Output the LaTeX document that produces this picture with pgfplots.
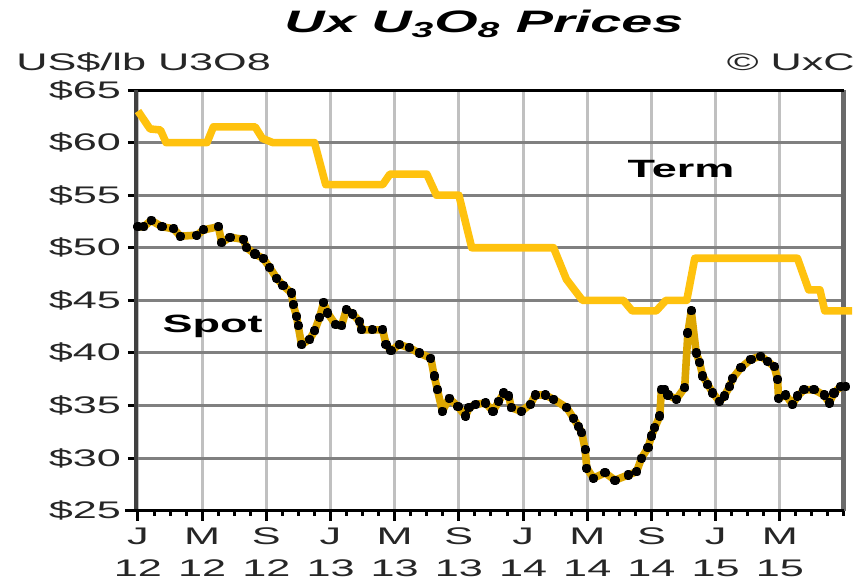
\documentclass[border=0pt]{standalone}
\usepackage{fontspec}
\setmainfont{Liberation Sans}[FakeStretch=1.8]
\usepackage{pgfplots}
\pgfplotsset{compat=1.18}
\definecolor{termc}{HTML}{FFC20E}
\definecolor{spotc}{HTML}{DDA600}
\definecolor{hgrid}{HTML}{808080}
\definecolor{vgrid}{HTML}{C0C0C0}
\definecolor{axdark}{HTML}{404040}
\definecolor{axright}{HTML}{6A6A6A}
\begin{document}
\begin{tikzpicture}
\useasboundingbox (-69pt,-37.65pt) rectangle (359.5pt,255.35pt);
\begin{axis}[
  at={(0pt,0pt)}, anchor=south west,
  scale only axis, width=353pt, height=210.35pt,
  xmin=0, xmax=44, ymin=25, ymax=65,
  clip=false,
  axis line style={draw=none},
  xtick={0,4,...,40},
  xticklabels={{J\\12},{M\\12},{S\\12},{J\\13},{M\\13},{S\\13},{J\\14},{M\\14},{S\\14},{J\\15},{M\\15}},
  minor xtick={0,1,...,44},
  ytick={25,30,...,65},
  yticklabel={\$\pgfmathprintnumber{\tick}},
  /pgf/number format/assume math mode=true,
  tick align=outside,
  xtick pos=bottom, ytick pos=left,
  major tick length=5pt, minor tick length=2.5pt,
  every tick/.style={black, line width=1.5pt},
  grid=major,
  major x grid style={vgrid, line width=1.5pt},
  major y grid style={hgrid, line width=1.5pt},
  xticklabel style={align=center, font=\fontsize{12}{16}\selectfont, text=black!85},
  yticklabel style={font=\fontsize{12}{14}\selectfont, text=black!85},
]
% borders
\draw[axdark, line width=2pt] ([xshift=-1pt]rel axis cs:0,0) -- ([xshift=-1pt]rel axis cs:0,1);
\draw[axright, line width=2.5pt] (rel axis cs:1,0) -- (rel axis cs:1,1);
\draw[black, line width=1.5pt] (rel axis cs:0,1) -- (rel axis cs:1,1);
\draw[black, line width=1.5pt] ([xshift=-6.5pt]rel axis cs:0,0) -- (rel axis cs:1,0);

\addplot[termc, line width=3.8pt, line join=round] coordinates {
(0,63) (0.75,61.3) (1.4,61.2) (1.75,60) (4.3,60) (4.7,61.5) (7.3,61.5) (7.75,60.4)
(8.4,60) (11,60) (11.7,56) (15.25,56) (15.7,57) (18,57) (18.6,55) (20,55)
(20.8,50) (25.9,50) (26.7,47) (27.7,45) (30.25,45) (30.8,44) (32.3,44) (32.9,45)
(34.2,45) (34.7,49) (41.1,49) (41.8,46) (42.5,46) (42.8,44) (44.5,44)
};

\addplot[spotc, line width=3.8pt, line join=round, mark=square*, mark size=0.4pt,
  mark options={black, draw=none}] coordinates {
(0,52.0) (0.36,52.0) (0.82,52.6) (1.5,52.0) (2.22,51.8) (2.64,51.1) (3.67,51.2)
(4.08,51.7) (5.01,52.0) (5.22,50.5) (5.74,51.0) (6.56,50.8) (6.77,50.0) (7.29,49.4)
(7.8,49.0) (8.22,48.1) (8.64,47.1) (9.04,46.4) (9.57,45.7) (9.67,44.6) (9.88,43.5)
(9.98,42.6) (10.19,40.8) (10.7,41.3) (11.01,42.1) (11.32,43.4) (11.57,44.8)
(11.82,43.8) (12.31,42.7) (12.69,42.6) (12.98,44.1) (13.39,43.7) (13.8,43.0)
(13.93,42.2) (14.6,42.2) (15.25,42.2) (15.46,40.8) (15.77,40.2) (16.28,40.8) (16.9,40.5)
(17.52,40.0) (18.25,39.5) (18.46,37.8) (18.66,36.5) (18.97,34.45) (19.39,35.7)
(19.94,34.9) (20.42,34.0) (20.63,34.8) (21.04,35.1) (21.66,35.25) (22.12,34.45)
(22.49,35.4) (22.8,36.2) (23.11,35.9) (23.26,34.8) (23.88,34.45) (24.45,35.1)
(24.76,36.0) (25.38,36.0) (25.9,35.6) (26.72,34.8) (27.14,33.8) (27.45,33.0)
(27.66,32.4) (27.87,30.8) (27.97,29.05) (28.38,28.1) (29.11,28.6) (29.73,27.9)
(30.55,28.4) (31.07,28.7) (31.38,30.0) (31.79,31.0) (32.0,32.1) (32.21,32.9)
(32.52,34.0) (32.62,36.5) (32.83,36.5) (33.03,36.0) (33.55,35.6) (34.07,36.7)
(34.27,41.9) (34.48,44.0) (34.79,40.0) (35.0,39.1) (35.2,37.8) (35.51,37.0)
(35.82,36.2) (36.24,35.4) (36.55,35.9) (36.86,36.8) (37.07,37.6) (37.58,38.6)
(38.2,39.4) (38.82,39.7) (39.24,39.2) (39.65,38.7) (39.86,37.5) (39.92,35.7)
(40.37,36.0) (40.79,35.1) (41.1,35.9) (41.51,36.5) (42.13,36.5) (42.76,36.0)
(43.08,35.25) (43.38,36.2) (43.79,36.8) (44.1,36.8)
};

\node[font=\fontsize{12.5}{15}\selectfont\bfseries] at (axis cs:4.65,42.56) {Spot};
\node[font=\fontsize{12.5}{15}\selectfont\bfseries] at (axis cs:33.84,57.5) {Term};
\end{axis}
\node[font=\fontsize{15.5}{18}\selectfont\bfseries\itshape] at (173pt,243.35pt) {Ux U\textsubscript{3}O\textsubscript{8} Prices};
\node[font=\fontsize{12}{14}\selectfont, anchor=west, inner sep=0pt, text=black!85] at (-61pt,224.35pt) {US\$/lb U3O8};
\node[font=\fontsize{12}{14}\selectfont, anchor=east, inner sep=0pt, text=black!85] at (358.5pt,224.35pt) {© UxC};
\end{tikzpicture}
\end{document}
